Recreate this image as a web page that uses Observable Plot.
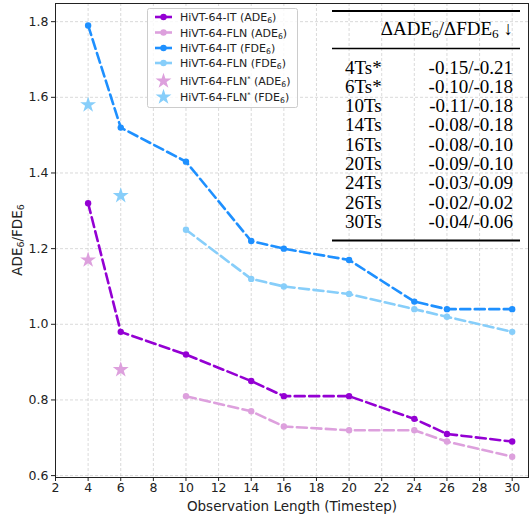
<!DOCTYPE html>
<html>
<head>
<meta charset="utf-8">
<script src="https://cdn.jsdelivr.net/npm/d3@7"></script>
<script src="https://cdn.jsdelivr.net/npm/@observablehq/plot@0.6"></script>
<style>
  html, body { margin: 0; padding: 0; background: #fff; }
  #chart svg { display: block; }
</style>
</head>
<body>
<div id="chart"></div>
<script>
// ---- data ----
const itSteps = [4, 6, 10, 14, 16, 20, 24, 26, 30];
const itAde = [1.32, 0.98, 0.92, 0.85, 0.81, 0.81, 0.75, 0.71, 0.69];
const itFde = [1.79, 1.52, 1.43, 1.22, 1.20, 1.17, 1.06, 1.04, 1.04];
const flnSteps = [10, 14, 16, 20, 24, 26, 30];
const flnAde = [0.81, 0.77, 0.73, 0.72, 0.72, 0.69, 0.65];
const flnFde = [1.25, 1.12, 1.10, 1.08, 1.04, 1.02, 0.98];
const starSteps = [4, 6];
const starAde = [1.17, 0.88];
const starFde = [1.58, 1.34];
const xTicks = [2, 4, 6, 8, 10, 12, 14, 16, 18, 20, 22, 24, 26, 28, 30];
const yTicks = [0.6, 0.8, 1.0, 1.2, 1.4, 1.6, 1.8];
const tableRows = ["4Ts*", "6Ts*", "10Ts", "14Ts", "16Ts", "20Ts", "24Ts", "26Ts", "30Ts"];
const tableValues = ["-0.15/-0.21", "-0.10/-0.18", "-0.11/-0.18", "-0.08/-0.18", "-0.08/-0.10",
                     "-0.09/-0.10", "-0.03/-0.09", "-0.02/-0.02", "-0.04/-0.06"];

const C = {itAde: "#9400D3", flnAde: "#DDA0DD", itFde: "#1E90FF", flnFde: "#87CEFA"};

const toRows = (xs, ys) => xs.map((x, i) => ({x, y: ys[i]}));
const sIA = toRows(itSteps, itAde), sIF = toRows(itSteps, itFde);
const sFA = toRows(flnSteps, flnAde), sFF = toRows(flnSteps, flnFde);
const stA = toRows(starSteps, starAde), stF = toRows(starSteps, starFde);

const dash = "10,4.5";
const lw = 2.6;
const starR = 5;
function series(data, color) {
  return [
    Plot.line(data, {x: "x", y: "y", stroke: color, strokeWidth: lw, strokeDasharray: dash}),
    Plot.dot(data, {x: "x", y: "y", fill: color, r: 3.2})
  ];
}

const chart = Plot.plot({
  width: 530, height: 516,
  marginLeft: 55, marginRight: 2, marginTop: 3, marginBottom: 39,
  style: {fontFamily: "DejaVu Sans", fontSize: "12px", color: "#222", background: "#fff"},
  x: {domain: [2, 31]},
  y: {domain: [0.595, 1.848]},
  marks: [
    Plot.gridX(xTicks, {stroke: "#bbb", strokeOpacity: 0.55, strokeDasharray: "3,2"}),
    Plot.gridY(yTicks, {stroke: "#bbb", strokeOpacity: 0.55, strokeDasharray: "3,2"}),
    ...series(sFA, C.flnAde),
    ...series(sFF, C.flnFde),
    ...series(sIA, C.itAde),
    ...series(sIF, C.itFde),
    Plot.dot(stA, {x: "x", y: "y", symbol: "star", fill: C.flnAde, r: starR}),
    Plot.dot(stF, {x: "x", y: "y", symbol: "star", fill: C.flnFde, r: starR}),
    Plot.frame({stroke: "#222", strokeWidth: 1}),
    Plot.axisX({ticks: xTicks, tickSize: 4, tickPadding: 2, label: null, fontSize: 12.5, stroke: "#222"}),
    Plot.axisY({ticks: yTicks, tickSize: 4, tickPadding: 3, label: null, fontSize: 12.5,
                tickFormat: d3.format(".1f"), stroke: "#222"})
  ]
});
document.getElementById("chart").appendChild(chart);

const svg = d3.select(chart);

// axis labels
svg.append("text").attr("x", 292).attr("y", 511).attr("text-anchor", "middle")
  .attr("font-family", "DejaVu Sans").attr("font-size", 13.5).attr("fill", "#222")
  .text("Observation Length (Timestep)");

function subText(sel, parts) {
  parts.forEach(([t, kind]) => {
    const ts = sel.append("tspan").text(t);
    if (kind === "sub") ts.attr("font-size", "0.7em").attr("baseline-shift", "-25%");
    if (kind === "sup") ts.attr("font-size", "0.6em").attr("baseline-shift", "55%");
  });
  return sel;
}

const yl = svg.append("text").attr("transform", "translate(22,240) rotate(-90)")
  .attr("text-anchor", "middle").attr("font-family", "DejaVu Sans").attr("font-size", 13.5).attr("fill", "#222");
subText(yl, [["ADE"], ["6", "sub"], ["/FDE"], ["6", "sub"]]);

// legend
const lg = svg.append("g").attr("font-family", "DejaVu Sans").attr("font-size", 11).attr("text-anchor", "start");
lg.append("rect").attr("x", 147.5).attr("y", 8.5).attr("width", 150).attr("height", 99).attr("rx", 2)
  .attr("fill", "#fff").attr("fill-opacity", 0.8).attr("stroke", "#ccc");
const items = [
  {c: C.itAde, star: false, parts: [["HiVT-64-IT (ADE"], ["6", "sub"], [")"]]},
  {c: C.flnAde, star: false, parts: [["HiVT-64-FLN (ADE"], ["6", "sub"], [")"]]},
  {c: C.itFde, star: false, parts: [["HiVT-64-IT (FDE"], ["6", "sub"], [")"]]},
  {c: C.flnFde, star: false, parts: [["HiVT-64-FLN (FDE"], ["6", "sub"], [")"]]},
  {c: C.flnAde, star: true, parts: [["HiVT-64-FLN"], ["*", "sup"], [" (ADE"], ["6", "sub"], [")"]]},
  {c: C.flnFde, star: true, parts: [["HiVT-64-FLN"], ["*", "sup"], [" (FDE"], ["6", "sub"], [")"]]}
];
const ys = [17, 32.5, 48, 63, 81, 97];
const starPath = d3.symbol(d3.symbolStar, Math.PI * starR * starR)();
items.forEach((it, i) => {
  const y = ys[i];
  if (it.star) {
    lg.append("path").attr("d", starPath).attr("transform", `translate(163.5,${y})`).attr("fill", it.c);
  } else {
    lg.append("line").attr("x1", 155).attr("x2", 172).attr("y1", y).attr("y2", y)
      .attr("stroke", it.c).attr("stroke-width", lw);
    lg.append("circle").attr("cx", 163.5).attr("cy", y).attr("r", 3.2).attr("fill", it.c);
  }
  const t = lg.append("text").attr("x", 180).attr("y", y + 4).attr("fill", "#222").attr("text-anchor", "start");
  subText(t, it.parts);
});

// table
const tb = svg.append("g").attr("font-family", "Liberation Serif").attr("fill", "#000");
tb.append("line").attr("x1", 332).attr("x2", 520).attr("y1", 11).attr("y2", 11).attr("stroke", "#000").attr("stroke-width", 2);
tb.append("line").attr("x1", 332).attr("x2", 520).attr("y1", 48.5).attr("y2", 48.5).attr("stroke", "#000").attr("stroke-width", 1.5);
tb.append("line").attr("x1", 332).attr("x2", 520).attr("y1", 240.5).attr("y2", 240.5).attr("stroke", "#000").attr("stroke-width", 2);
const hd = tb.append("text").attr("x", 513).attr("y", 34.5).attr("text-anchor", "end").attr("font-size", 19);
subText(hd, [["ΔADE"], ["6", "sub"], ["/ΔFDE"], ["6", "sub"], [" ↓"]]);
tableRows.forEach((r, i) => {
  const y = 73.5 + i * 19.3;
  tb.append("text").attr("x", 345).attr("y", y).attr("text-anchor", "start").attr("font-size", 19).text(r);
  tb.append("text").attr("x", 513).attr("y", y).attr("text-anchor", "end").attr("font-size", 19).text(tableValues[i]);
});
</script>
</body>
</html>
